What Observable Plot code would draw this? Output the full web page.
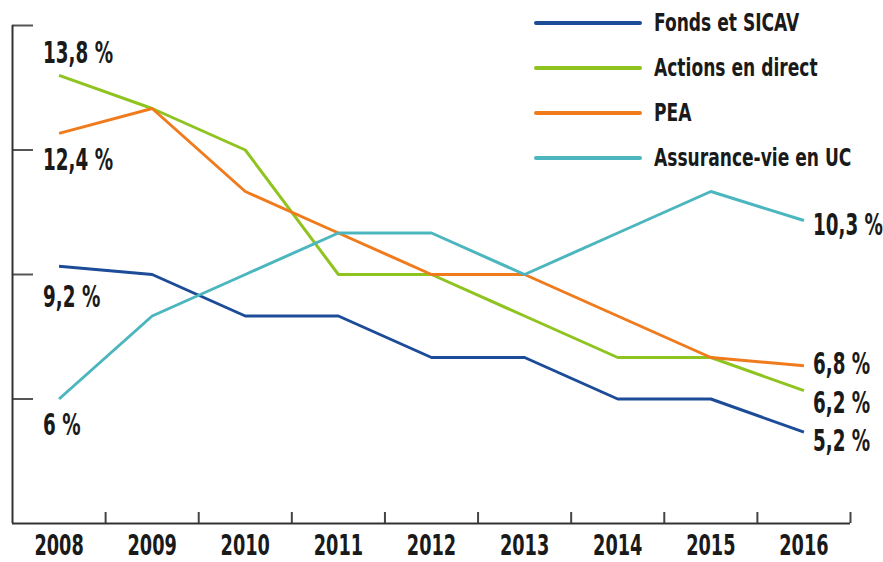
<!DOCTYPE html>
<html>
<head>
<meta charset="utf-8">
<script src="https://cdn.jsdelivr.net/npm/d3@7"></script>
<script src="https://cdn.jsdelivr.net/npm/@observablehq/plot@0.6"></script>
<style>
  html, body { margin: 0; padding: 0; background: #fff; }
  #wrap { position: relative; width: 883px; height: 562px; overflow: hidden; }
  #wrap svg { position: absolute; left: 0; top: 0; }
  #legend { position: absolute; left: 534px; top: 0px; font-family: "DejaVu Sans Condensed", sans-serif; font-weight: bold; font-size: 25px; color: #1a1a1a; z-index: 2; }
  .row { display: flex; align-items: center; height: 45px; white-space: nowrap; }
  .sw { width: 108px; height: 4px; border-radius: 2px; margin-right: 12px; flex: none; }
  .lab { display: inline-block; transform: scaleX(0.76); transform-origin: 0 50%; }
</style>
</head>
<body>
<div id="wrap"><div id="legend"></div></div>
<script>
const years = [2008, 2009, 2010, 2011, 2012, 2013, 2014, 2015, 2016];
const seriesNames = ["Fonds et SICAV", "Actions en direct", "PEA", "Assurance-vie en UC"];
const fonds = [9.2, 9.0, 8.0, 8.0, 7.0, 7.0, 6.0, 6.0, 5.2];
const actions = [13.8, 13.0, 12.0, 9.0, 9.0, 8.0, 7.0, 7.0, 6.2];
const pea = [12.4, 13.0, 11.0, 10.0, 9.0, 9.0, 8.0, 7.0, 6.8];
const assurance = [6.0, 8.0, 9.0, 10.0, 10.0, 9.0, 10.0, 11.0, 10.3];
const yTicks = [6, 9, 12, 15];
const yDomain = [3, 15];

const colors = ["#1c4b98", "#8fc31f", "#f07b1c", "#4cb6bf"];
const seriesValues = [fonds, actions, pea, assurance];
const font = '"DejaVu Sans Condensed", sans-serif';

const rows = [];
seriesNames.forEach((name, i) => years.forEach((yr, j) => rows.push({series: name, year: yr, value: seriesValues[i][j]})));

const fmt = v => d3.format(".1~f")(v).replace(".", ",") + " %";
const startLabels = seriesNames.map((name, i) => ({series: name, year: years[0], value: seriesValues[i][0]}));
const endLabels = seriesNames.map((name, i) => ({series: name, year: years[years.length - 1], value: seriesValues[i][years.length - 1]}));
// label vertical offsets (styling)
const startDy = {"Fonds et SICAV": 31, "Actions en direct": -22, "PEA": 27, "Assurance-vie en UC": 26};
const endDy = {"Fonds et SICAV": 9, "Actions en direct": 13, "PEA": -1, "Assurance-vie en UC": 5};

const xDomain = [years[0] - 0.5, years[years.length - 1] + 0.5];
const boundaries = years.map(y => y + 0.5);

const labelMarks = [
  ...startLabels.map(d => Plot.text([d], {x: "year", y: "value", text: d => fmt(d.value), textAnchor: "start", dx: -16, dy: startDy[d.series], fontSize: 30, fontWeight: "bold", fill: "#1a1a1a"})),
  ...endLabels.map(d => Plot.text([d], {x: "year", y: "value", text: d => fmt(d.value), textAnchor: "start", dx: 9, dy: endDy[d.series], fontSize: 30, fontWeight: "bold", fill: "#1a1a1a"}))
];

const plot = Plot.plot({
  width: 883,
  height: 562,
  marginLeft: 12,
  marginRight: 33,
  marginTop: 25,
  marginBottom: 39,
  style: {fontFamily: font, color: "#1a1a1a", background: "#fff"},
  x: {domain: xDomain, axis: null},
  y: {domain: yDomain, axis: null},
  color: {domain: seriesNames, range: colors},
  marks: [
    Plot.axisY({ticks: yTicks, tickSize: 21, dx: 21, tickFormat: () => "", stroke: "#555", strokeWidth: 2, label: null}),
    Plot.axisX({ticks: boundaries, tickSize: 11, dy: -11, tickFormat: () => "", stroke: "#444", strokeWidth: 2, label: null}),
    Plot.axisX({ticks: years, tickSize: 0, tickPadding: 11, tickFormat: d3.format("d"), fontSize: 29, fontWeight: "bold", fill: "#1a1a1a", label: null}),
    Plot.ruleX([xDomain[0]], {stroke: "#333", strokeWidth: 2}),
    Plot.ruleY([yDomain[0]], {stroke: "#333", strokeWidth: 2}),
    Plot.line(rows, {x: "year", y: "value", z: "series", stroke: "series", strokeWidth: 3, strokeLinejoin: "miter", strokeLinecap: "butt"}),
    ...labelMarks
  ]
});
// condense text horizontally around its anchor
plot.querySelectorAll("text").forEach(t => {
  const tr = t.getAttribute("transform");
  if (tr) t.setAttribute("transform", tr + " scale(0.68,1)");
});
document.getElementById("wrap").appendChild(plot);

const legend = document.getElementById("legend");
seriesNames.forEach((name, i) => {
  const row = document.createElement("div");
  row.className = "row";
  const sw = document.createElement("div");
  sw.className = "sw";
  sw.style.background = colors[i];
  const lab = document.createElement("span");
  lab.className = "lab";
  lab.textContent = name;
  row.appendChild(sw);
  row.appendChild(lab);
  legend.appendChild(row);
});
</script>
</body>
</html>
